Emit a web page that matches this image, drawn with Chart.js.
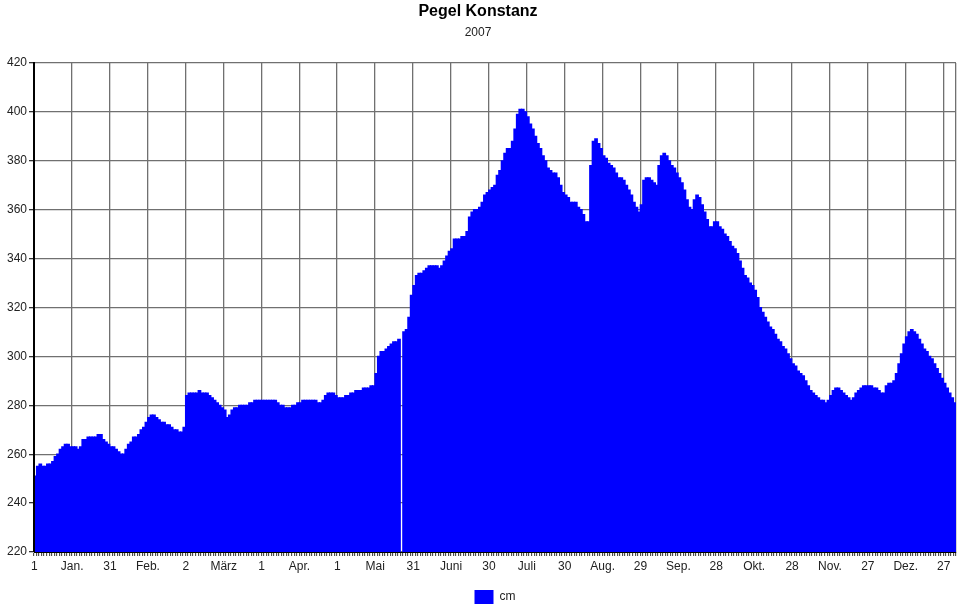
<!DOCTYPE html>
<html>
<head>
<meta charset="utf-8">
<script src="https://cdn.jsdelivr.net/npm/chart.js@4"></script>
<style>
  html, body { margin: 0; padding: 0; background: #fff; }
  #wrap { width: 960px; height: 608px; }
</style>
</head>
<body>
<div id="wrap"><canvas id="pegelChart"></canvas></div>
<script>
// Tageswerte Pegel Konstanz 2007 in cm (null = fehlender Wert)
const jan = [251,255,256,255,255,256,256,257,259,260,262,263,264,264,263,263,263,262,263,266,266,267,267,267,267,268,268,266,265,264,263];
const feb = [263,262,261,260,260,262,264,265,267,267,268,270,271,273,275,276,276,275,274,273,273,272,272,271,270,270,269,269];
const mar = [271,284,285,285,285,285,286,285,285,285,284,283,282,281,280,279,278,275,276,278,279,279,280,280,280,280,281,281,282,282,282];
const apr = [282,282,282,282,282,282,281,280,280,279,279,279,280,280,281,281,282,282,282,282,282,282,281,281,282,284,285,285,285,284];
const mai = [283,283,283,284,284,285,285,286,286,286,287,287,287,288,288,293,300,302,302,303,304,305,306,306,307,null,310,311,316,325,329];
const jun = [333,334,334,335,336,337,337,337,337,336,337,339,341,343,344,348,348,348,349,349,351,357,359,360,360,361,363,366,367,368];
const jul = [369,370,374,376,380,383,385,385,388,393,399,401,401,400,398,395,393,390,387,385,382,380,377,376,375,375,373,370,367,366,365];
const aug = [363,363,363,361,360,358,355,355,378,388,389,387,385,382,381,379,378,377,375,373,373,372,370,368,366,363,361,359,362,372,373];
const sep = [373,372,371,370,378,382,383,382,380,378,377,375,373,371,368,364,361,360,364,366,365,362,359,356,353,353,355,355,353,352];
const okt = [350,349,347,345,344,342,339,336,333,332,330,329,327,324,320,318,316,314,312,311,309,307,306,304,303,301,299,297,296,294,293];
const nov = [292,290,288,286,285,284,283,282,282,281,282,284,286,287,287,286,285,284,283,282,283,285,286,287,288,288,288,288,287,287];
const dez = [286,285,285,288,289,289,290,293,297,301,305,308,310,311,310,309,307,305,303,302,300,299,297,295,293,291,289,287,285,283,281];

const months = [jan, feb, mar, apr, mai, jun, jul, aug, sep, okt, nov, dez];

// Achsenbeschriftung: alle 15 Tage ein Eintrag
const xTickLabels = ["1","Jan.","31","Feb.","2","März","1","Apr.","1","Mai","31","Juni","30","Juli","30","Aug.","29","Sep.","28","Okt.","28","Nov.","27","Dez.","27"];

const days = [];
months.forEach((m, mi) => {
  m.forEach((v, di) => days.push((di + 1) + "." + (mi + 1) + ".2007"));
});
const pegel = [].concat(...months);

const GRID = "#707070";
const FONT = "'Liberation Sans', Arial, sans-serif";

new Chart(document.getElementById("pegelChart"), {
  type: "bar",
  data: {
    labels: days,
    datasets: [{
      label: "cm",
      data: pegel,
      backgroundColor: "#0000ff",
      borderWidth: 0,
      barPercentage: 1,
      categoryPercentage: 1,
      inflateAmount: 0.6
    }]
  },
  options: {
    responsive: true,
    maintainAspectRatio: false,
    animation: false,
    layout: { padding: { left: 0, right: 4, top: 0, bottom: -6 } },
    plugins: {
      title: {
        display: true,
        text: "Pegel Konstanz",
        color: "#000",
        font: { family: FONT, size: 16, weight: "bold" },
        padding: { top: 2, bottom: 2 }
      },
      subtitle: {
        display: true,
        text: "2007",
        color: "#222",
        font: { family: FONT, size: 12 },
        padding: { top: 2, bottom: 23.4 }
      },
      legend: {
        position: "bottom",
        fullSize: false,
        labels: {
          boxWidth: 19,
          boxHeight: 14,
          padding: 10,
          color: "#222",
          font: { family: FONT, size: 12 }
        }
      },
      tooltip: { enabled: false }
    },
    scales: {
      x: {
        afterFit: (s) => { s.height = 28; },
        grid: {
          color: (ctx) => (ctx.index === undefined || ctx.index % 15 === 0) ? GRID : "rgba(0,0,0,0)",
          lineWidth: 1.3,
          tickLength: 4,
          tickColor: "#333",
          tickWidth: 1
        },
        border: { color: "#000", width: 1, z: 1 },
        ticks: {
          autoSkip: false,
          maxRotation: 0,
          minRotation: 0,
          padding: 3,
          labelOffset: -1,
          color: "#222",
          font: { family: FONT, size: 12 },
          callback: (val, i) => (i % 15 === 0 ? xTickLabels[i / 15] : "")
        }
      },
      y: {
        min: 220,
        max: 420,
        afterFit: (s) => { s.width = 34; },
        grid: { color: GRID, lineWidth: 1.3, tickLength: 5, tickColor: "#333" },
        border: { color: "#000", width: 2, z: 1 },
        ticks: {
          stepSize: 20,
          padding: 2,
          color: "#222",
          font: { family: FONT, size: 12 }
        }
      }
    }
  }
});
</script>
</body>
</html>
